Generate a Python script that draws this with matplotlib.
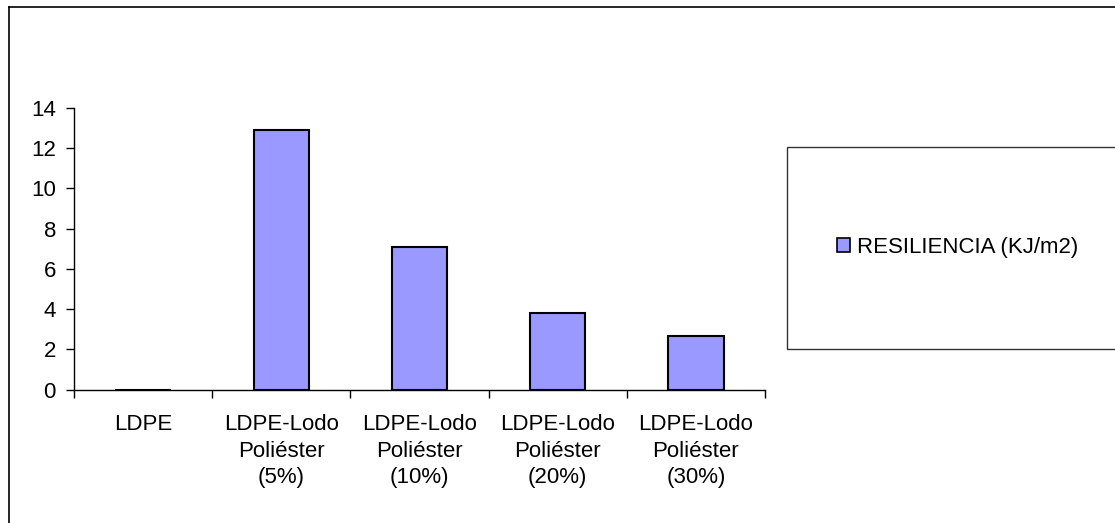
import matplotlib
matplotlib.use("Agg")
import matplotlib.pyplot as plt
from matplotlib.patches import Rectangle, Patch
from matplotlib.lines import Line2D

categories = ["LDPE", "LDPE-Lodo\nPoliéster\n(5%)", "LDPE-Lodo\nPoliéster\n(10%)",
              "LDPE-Lodo\nPoliéster\n(20%)", "LDPE-Lodo\nPoliéster\n(30%)"]
values = [0.0, 12.9, 7.1, 3.8, 2.65]
series_name = "RESILIENCIA (KJ/m2)"
yticks = [0, 2, 4, 6, 8, 10, 12, 14]

plt.rcParams['font.family'] = ['Liberation Sans', 'DejaVu Sans']
FS = 16
W, H = 1115, 523
fig = plt.figure(figsize=(W / 100, H / 100), dpi=100)

ax = fig.add_axes([74 / W, 1 - 389.5 / H, (765 - 74) / W, (389.5 - 108) / H])
pos = [i + 0.5 for i in range(len(categories))]
ax.bar(pos, values, width=0.4, color="#9999FF", edgecolor="black", linewidth=1.5, zorder=3)
ax.set_xlim(0, len(categories))
ax.set_ylim(0, 14)
ax.set_yticks(yticks)
ax.set_yticklabels([str(t) for t in yticks], fontsize=FS)
ax.set_xticks(range(len(categories) + 1))
ax.set_xticklabels([])
ax.set_xticks(pos, minor=True)
ax.set_xticklabels(categories, minor=True, fontsize=FS, linespacing=1.32)
ax.tick_params(axis='x', which='major', direction='out', length=6, width=1, color='black')
ax.tick_params(axis='x', which='minor', length=0, pad=18)
ax.tick_params(axis='y', direction='out', length=6, width=1, pad=7, color='black')
for s in ("top", "right"):
    ax.spines[s].set_visible(False)
ax.spines["left"].set_linewidth(1)
ax.spines["bottom"].set_linewidth(1)

# legend box (cut off at right)
box = Rectangle((787 / W, 1 - 349 / H), 0.5, (349 - 147) / H, transform=fig.transFigure,
                fill=False, edgecolor="#333333", linewidth=1)
fig.add_artist(box)
handle = Patch(facecolor="#9999FF", edgecolor="black", linewidth=1.2)
fig.legend([handle], [series_name], loc="center left", bbox_to_anchor=(837 / W, 1 - 247 / H),
           frameon=False, fontsize=FS, handlelength=0.6, handleheight=0.6, handletextpad=0.3,
           borderaxespad=0, borderpad=0)

# outer chart border (cut off at right and bottom)
fig.add_artist(Line2D([8.5 / W, 8.5 / W], [1 - 6.5 / H, -0.1], transform=fig.transFigure,
                      color="black", linewidth=1.2))
fig.add_artist(Line2D([8.5 / W, 1.1], [1 - 6.5 / H, 1 - 6.5 / H], transform=fig.transFigure,
                      color="black", linewidth=1.2))

fig.savefig("out.png", dpi=100)
